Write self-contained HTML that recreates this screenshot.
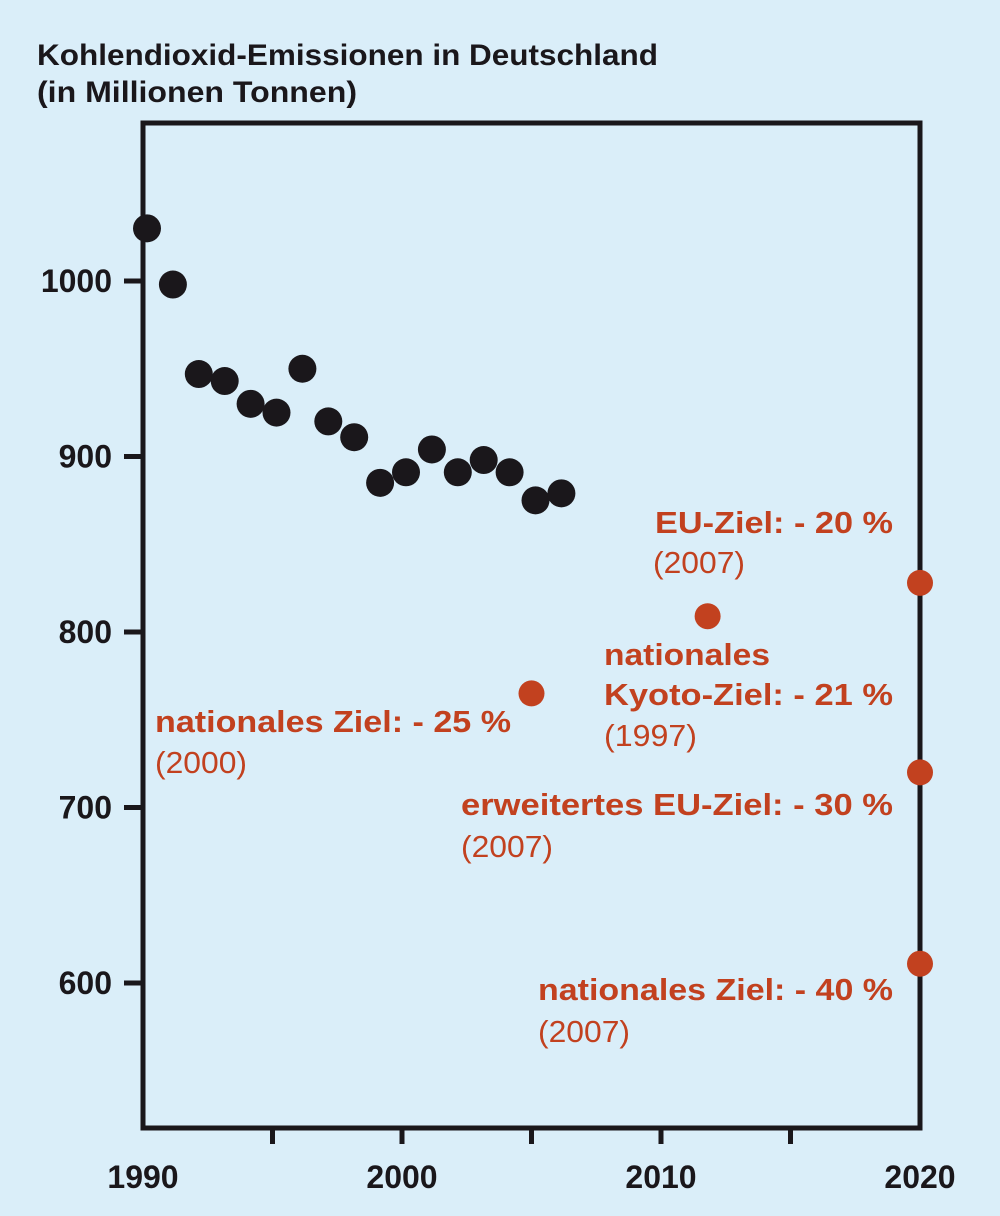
<!DOCTYPE html>
<html><head><meta charset="utf-8"><style>
html,body{margin:0;padding:0;background:#daeef9;}
svg{display:block;font-family:"Liberation Sans",Arial,sans-serif;}
.t{font-weight:bold;font-size:30px;fill:#1a171b}
.ax{font-weight:bold;font-size:32px;fill:#1a171b}
.rb{font-weight:bold;font-size:31px;fill:#c2411f}
.rl{font-size:31px;fill:#c2411f}
</style></head><body>
<svg id="chart" width="1000" height="1216" viewBox="0 0 1000 1216">
<rect x="0" y="0" width="1000" height="1216" fill="#daeef9"/>
<text class="t" x="37" y="65" textLength="621" lengthAdjust="spacingAndGlyphs">Kohlendioxid-Emissionen in Deutschland</text>
<text class="t" x="37" y="102" textLength="320" lengthAdjust="spacingAndGlyphs">(in Millionen Tonnen)</text>
<rect x="143" y="123" width="777" height="1005" fill="none" stroke="#1a171b" stroke-width="5"/>
<g id="axes"></g>
<g id="marks"></g>
<g>
<text class="rb" x="655" y="533" textLength="238" lengthAdjust="spacingAndGlyphs">EU-Ziel: - 20 %</text>
<text class="rl" x="653" y="573" textLength="92" lengthAdjust="spacingAndGlyphs">(2007)</text>
<text class="rb" x="604" y="665" textLength="166" lengthAdjust="spacingAndGlyphs">nationales</text>
<text class="rb" x="604" y="705" textLength="289" lengthAdjust="spacingAndGlyphs">Kyoto-Ziel: - 21 %</text>
<text class="rl" x="604" y="746" textLength="93" lengthAdjust="spacingAndGlyphs">(1997)</text>
<text class="rb" x="155" y="732" textLength="356" lengthAdjust="spacingAndGlyphs">nationales Ziel: - 25 %</text>
<text class="rl" x="155" y="773" textLength="92" lengthAdjust="spacingAndGlyphs">(2000)</text>
<text class="rb" x="461" y="815" textLength="432" lengthAdjust="spacingAndGlyphs">erweitertes EU-Ziel: - 30 %</text>
<text class="rl" x="461" y="857" textLength="92" lengthAdjust="spacingAndGlyphs">(2007)</text>
<text class="rb" x="538" y="1000" textLength="355" lengthAdjust="spacingAndGlyphs">nationales Ziel: - 40 %</text>
<text class="rl" x="538" y="1042" textLength="92" lengthAdjust="spacingAndGlyphs">(2007)</text>
</g>
</svg>
<script>
const years=[1990,1991,1992,1993,1994,1995,1996,1997,1998,1999,2000,2001,2002,2003,2004,2005,2006];
const emissions=[1030,998,947,943,930,925,950,920,911,885,891,904,891,898,891,875,879];
const targetYears=[2005,2011.8,2020,2020,2020];
const targetValues=[765,809,828,720,611];
const xTicks=[1990,1995,2000,2005,2010,2015,2020];
const xTickLabels=["1990","","2000","","2010","","2020"];
const yTicks=[600,700,800,900,1000];
const yTickLabels=["600","700","800","900","1000"];
const NS="http://www.w3.org/2000/svg";
function x(v){return 143+(v-1990)*(777/30);}
function y(v){return 281+(1000-v)*1.755;}
const axes=document.getElementById('axes'),marks=document.getElementById('marks');
function mk(tag,attrs,parent){const e=document.createElementNS(NS,tag);for(const k in attrs)e.setAttribute(k,attrs[k]);parent.appendChild(e);return e;}
xTicks.forEach((t,i)=>{
 if(t>1990&&t<2020){const l=mk('line',{x1:x(t),x2:x(t),y1:1128,y2:1144,stroke:'#1a171b','stroke-width':5},axes);
 
 }
 if(xTickLabels[i]){const tx=mk('text',{x:x(t),y:1188,'text-anchor':'middle','class':'ax'},axes);tx.textContent=xTickLabels[i];
 
 }
});
yTicks.forEach((t,i)=>{
 const l=mk('line',{x1:124,x2:143,y1:y(t),y2:y(t),stroke:'#1a171b','stroke-width':5},axes);
 
 
 const tx=mk('text',{x:112,y:y(t)+11,'text-anchor':'end','class':'ax'},axes);tx.textContent=yTickLabels[i];
 
 
});
years.forEach((yr,i)=>{
 const c=mk('circle',{cx:x(yr)+4,cy:y(emissions[i]),r:14,fill:'#1a171b'},marks);
 
 
});
targetYears.forEach((yr,i)=>{
 const c=mk('circle',{cx:x(yr),cy:y(targetValues[i]),r:13,fill:'#c2411f'},marks);
 
 
});
</script>
</body></html>
